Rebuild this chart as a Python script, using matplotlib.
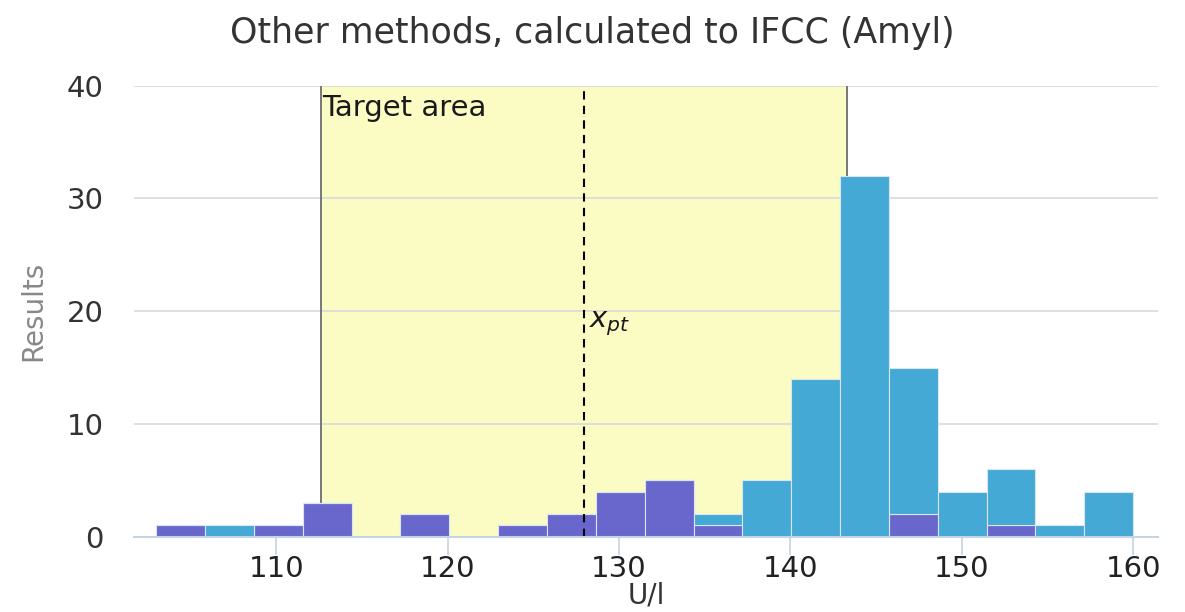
import numpy as np
import matplotlib
matplotlib.use('Agg')
import matplotlib.pyplot as plt

# histogram bins (U/l)
bin_start = 103.0
bin_end = 160.0
n_bins = 20

# counts per bin, stacked: purple at the bottom, blue on top
purple_counts = [1, 0, 1, 3, 0, 2, 0, 1, 2, 4, 5, 1, 0, 0, 0, 2, 0, 1, 0, 0]
blue_counts = [0, 1, 0, 0, 0, 0, 0, 0, 0, 0, 0, 1, 5, 14, 32, 13, 4, 5, 1, 4]

# target area and assigned value
target_low = 112.6
target_high = 143.3
x_pt = 127.95

x_ticks = [110, 120, 130, 140, 150, 160]
y_ticks = [0, 10, 20, 30, 40]

purple = '#6966cc'
blue = '#45a9d6'
axis_col = '#c5d3e3'

edges = np.linspace(bin_start, bin_end, n_bins + 1)
width = edges[1] - edges[0]

fig = plt.figure(figsize=(11.85, 6.12), dpi=100)
ax = fig.add_axes([134 / 1185, 1 - 536.7 / 612, (1158 - 134) / 1185, (536.7 - 85.7) / 612])

ax.axvspan(target_low, target_high, color='#fafcc4', zorder=0)
for yv in y_ticks[1:]:
    ax.axhline(yv, color='#d9d9d9', linewidth=1.2, zorder=1)
ax.vlines([target_low, target_high], 0, 40, color='#777777', linewidth=1.4, zorder=2)

ax.bar(edges[:-1], purple_counts, width=width, align='edge', color=purple,
       edgecolor='#d8e6f2', linewidth=0.8, zorder=3)
ax.bar(edges[:-1], blue_counts, width=width, align='edge', bottom=purple_counts,
       color=blue, edgecolor='#d8e6f2', linewidth=0.8, zorder=3)

ax.vlines(x_pt, 0, 40, color='black', linewidth=1.5, linestyles=(0, (4, 3)), zorder=4)

ax.text(target_low + 0.05, 39.3, 'Target area', fontsize=21, color='#1a1a1a', va='top', ha='left', zorder=5)
ax.text(x_pt + 0.3, 20.2, '$x_{pt}$', fontsize=21, color='#1a1a1a', va='top', ha='left', zorder=5)

ax.set_xlim(101.7, 161.45)
ax.set_ylim(0, 40)
ax.set_xticks(x_ticks)
ax.set_yticks(y_ticks)

for s in ['top', 'right', 'left']:
    ax.spines[s].set_visible(False)
ax.spines['bottom'].set_color(axis_col)
ax.spines['bottom'].set_linewidth(1.5)
ax.spines['bottom'].set_zorder(6)

ax.tick_params(axis='x', colors=axis_col, length=13, width=1.2, labelsize=21, labelcolor='#222222', pad=0)
ax.tick_params(axis='y', length=0, labelsize=21, labelcolor='#333333', pad=22)

ax.set_xlabel('U/l', fontsize=20, color='#333333')
ax.xaxis.set_label_coords(0.5, -0.1)
fig.text(33 / 1185, 1 - 311 / 612, 'Results', fontsize=20, color='#888888',
         rotation=90, ha='center', va='center')
fig.text(0.5, 1 - 33 / 612, 'Other methods, calculated to IFCC (Amyl)', fontsize=25,
         color='#333333', ha='center', va='center')

fig.savefig('out.png', dpi=100, facecolor='white')
